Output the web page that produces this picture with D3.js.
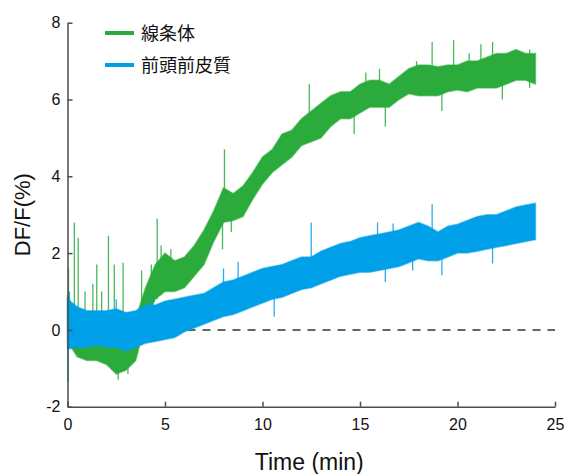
<!DOCTYPE html>
<html>
<head>
<meta charset="utf-8">
<script src="https://cdn.jsdelivr.net/npm/d3@7"></script>
<style>
  body { margin: 0; background: #fff; }
  svg { display: block; font-family: "Liberation Sans", Arial, sans-serif; }
</style>
</head>
<body>
<svg></svg>
<script>
const width = 564, height = 474;
const margin = { left: 67.5, right: 9, top: 22.7, bottom: 67.3 };

// sample times (min)
const times = d3.range(0, 24.01, 0.5);

// 線条体 (green): lower / upper edge of the noisy trace
const greenLo = [-0.3, -0.7, -0.8, -0.8, -0.9, -1.15, -1.05, -0.8, 0.2, 0.8,
  1.0, 1.0, 1.1, 1.4, 1.7, 2.3, 2.8, 2.85, 2.95, 3.4,
  3.8, 4.1, 4.3, 4.5, 4.8, 4.9, 5.0, 5.3, 5.5, 5.5,
  5.65, 5.8, 5.8, 5.8, 6.0, 6.15, 6.1, 6.1, 6.1, 6.2,
  6.25, 6.2, 6.3, 6.3, 6.3, 6.4, 6.5, 6.5, 6.4];
const greenHi = [0.9, 0.3, 0.2, 0.2, 0.1, -0.15, -0.1, 0.3, 1.1, 1.7,
  2.0, 1.8, 1.9, 2.2, 2.6, 3.1, 3.7, 3.55, 3.75, 4.1,
  4.5, 4.7, 5.1, 5.2, 5.5, 5.7, 5.9, 6.1, 6.2, 6.2,
  6.4, 6.5, 6.5, 6.4, 6.6, 6.8, 6.9, 6.9, 6.85, 6.9,
  6.9, 7.0, 7.0, 7.1, 7.2, 7.2, 7.3, 7.2, 7.2];

// 前頭前皮質 (blue)
const blueLo = [-0.5, -0.45, -0.45, -0.4, -0.45, -0.45, -0.55, -0.45, -0.35, -0.3,
  -0.25, -0.2, -0.05, 0.05, 0.15, 0.25, 0.35, 0.4, 0.5, 0.6,
  0.7, 0.8, 0.85, 0.95, 1.05, 1.1, 1.2, 1.3, 1.4, 1.45,
  1.5, 1.5, 1.55, 1.6, 1.65, 1.75, 1.85, 1.8, 1.8, 1.9,
  2.0, 2.0, 2.05, 2.1, 2.15, 2.2, 2.25, 2.3, 2.35];
const blueHi = [0.8, 0.6, 0.5, 0.5, 0.5, 0.55, 0.45, 0.5, 0.65, 0.65,
  0.75, 0.8, 0.85, 0.9, 0.95, 1.1, 1.25, 1.3, 1.4, 1.5,
  1.6, 1.65, 1.7, 1.8, 1.9, 1.9, 2.05, 2.15, 2.25, 2.3,
  2.4, 2.45, 2.5, 2.55, 2.6, 2.7, 2.8, 2.7, 2.55, 2.7,
  2.75, 2.85, 2.95, 3.0, 3.0, 3.1, 3.2, 3.25, 3.3];

// single-sample spikes: [time, from, to]
const greenSpikes = [[0.05, 0.0, 1.6], [0.35, 0.0, 2.8], [0.55, -0.2, 2.4], [0.9, -0.3, 1.0],
  [1.3, -0.3, 1.2], [1.5, -0.2, 1.7], [1.75, -0.3, 1.0], [2.1, -0.4, 2.45], [2.4, -0.6, 1.7],
  [2.6, -1.3, -0.5], [2.85, -0.5, 1.75], [3.1, -1.15, -0.4], [3.8, -0.2, 1.55], [4.3, 0.5, 1.7],
  [4.6, 0.8, 2.9], [4.8, 0.9, 2.2], [5.3, 1.0, 2.1], [7.95, 2.1, 3.0], [8.05, 3.0, 4.7],
  [8.4, 2.55, 3.2], [12.4, 5.0, 6.4], [14.7, 5.1, 5.8], [15.3, 6.0, 6.7], [16.0, 6.0, 6.8],
  [16.3, 5.3, 6.0], [17.9, 6.3, 7.0], [18.7, 6.3, 7.5], [19.2, 5.7, 6.4], [19.8, 6.3, 7.55],
  [20.6, 6.3, 7.2], [21.2, 6.4, 7.44], [21.8, 6.5, 7.5], [22.3, 6.0, 6.6], [23.7, 6.3, 7.3]];
const blueSpikes = [[0.03, -1.35, 0.3], [0.1, -0.2, 1.0], [2.5, 0.0, 0.8], [4.3, 0.1, 0.9],
  [8.0, 0.6, 1.6], [8.75, 0.8, 1.77], [10.6, 0.34, 1.0], [12.5, 1.3, 2.8], [15.9, 1.8, 2.8],
  [16.3, 1.25, 1.9], [16.7, 2.0, 2.77], [17.7, 1.55, 2.2], [18.7, 2.2, 3.27], [19.2, 1.42, 2.1],
  [21.8, 1.73, 2.4]];

const xTicks = [0, 5, 10, 15, 20, 25];
const yTicks = [-2, 0, 2, 4, 6, 8];

const green = "#2bab3b", blue = "#00a0e9";

const svg = d3.select("svg").attr("width", width).attr("height", height);

const x = d3.scaleLinear().domain([0, 25]).range([margin.left, width - margin.right]);
const y = d3.scaleLinear().domain([-2, 8]).range([height - margin.bottom, margin.top]);

// zero reference
svg.append("line")
  .attr("x1", x(0)).attr("x2", x(25))
  .attr("y1", y(0)).attr("y2", y(0))
  .attr("stroke", "#333").attr("stroke-width", 1.5)
  .attr("stroke-dasharray", "8,7");

function drawTrace(lo, hi, spikes, color) {
  const rows = times.map((t, i) => ({ t, lo: lo[i], hi: hi[i] }));
  const area = d3.area()
    .x(d => x(d.t))
    .y0(d => y(d.lo))
    .y1(d => y(d.hi));
  svg.append("path")
    .attr("d", area(rows))
    .attr("fill", color)
    .attr("stroke", color)
    .attr("stroke-opacity", 0.5)
    .attr("stroke-width", 1.5);
  const seg = d3.line().x(d => x(d[0])).y(d => y(d[1]));
  svg.append("g").selectAll("path")
    .data(spikes)
    .join("path")
    .attr("d", s => seg([[s[0], s[1]], [s[0], s[2]]]))
    .attr("stroke", color)
    .attr("stroke-width", 1.3)
    .attr("stroke-opacity", 0.85);
}

drawTrace(greenLo, greenHi, greenSpikes, green);
drawTrace(blueLo, blueHi, blueSpikes, blue);

// axes (ticks pointing inward)
const xAxis = svg.append("g")
  .attr("transform", `translate(0,${y(-2)})`)
  .call(d3.axisBottom(x).tickValues(xTicks).tickSizeInner(-5).tickSizeOuter(0).tickPadding(12));
const yAxis = svg.append("g")
  .attr("transform", `translate(${x(0)},0)`)
  .call(d3.axisLeft(y).tickValues(yTicks).tickFormat(d => String(d))
    .tickSizeInner(-5).tickSizeOuter(0).tickPadding(7));

[xAxis, yAxis].forEach(a => {
  a.select(".domain").attr("stroke", "#4d4d4d").attr("stroke-width", 1.5);
  a.selectAll(".tick line").attr("stroke", "#4d4d4d").attr("stroke-width", 1.5);
  a.selectAll(".tick text").attr("fill", "#111").style("font-size", "16px")
    .style("font-family", "'Liberation Sans', Arial, sans-serif");
});

// axis titles
svg.append("text")
  .attr("x", (x(0) + x(25)) / 2 - 2)
  .attr("y", 470)
  .attr("text-anchor", "middle")
  .style("font-size", "23px")
  .attr("fill", "#111")
  .text("Time (min)");
svg.append("text")
  .attr("transform", `translate(30,${y(3)}) rotate(-90)`)
  .attr("text-anchor", "middle")
  .style("font-size", "22px")
  .attr("fill", "#111")
  .text("DF/F(%)");

// legend
const legendItems = [{ name: "線条体", color: green }, { name: "前頭前皮質", color: blue }];
const legend = svg.append("g").attr("transform", "translate(105,33)");
legend.selectAll("line")
  .data(legendItems)
  .join("line")
  .attr("x1", 0).attr("x2", 29)
  .attr("y1", (d, i) => i * 32).attr("y2", (d, i) => i * 32)
  .attr("stroke", d => d.color)
  .attr("stroke-width", 4);
legend.selectAll("text")
  .data(legendItems)
  .join("text")
  .attr("x", 36)
  .attr("y", (d, i) => i * 32 + 6.5)
  .style("font-family", "'Noto Sans CJK JP', sans-serif")
  .style("font-size", "18px")
  .attr("fill", "#111")
  .text(d => d.name);
</script>
</body>
</html>
